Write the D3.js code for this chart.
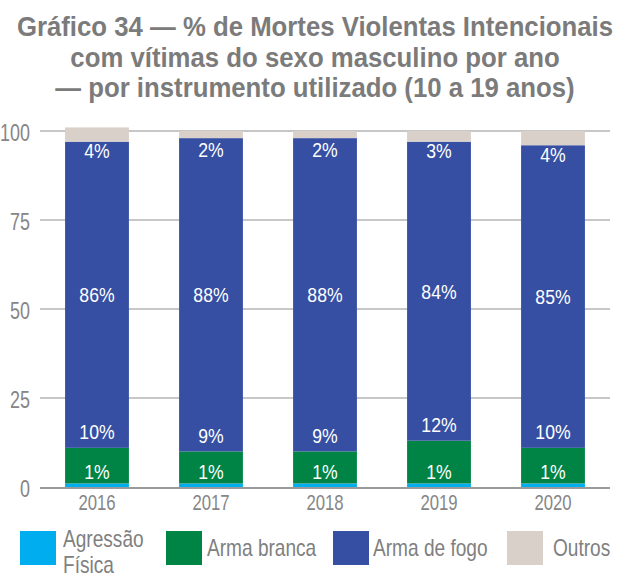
<!DOCTYPE html>
<html>
<head>
<meta charset="utf-8">
<script src="https://cdn.jsdelivr.net/npm/d3@7/dist/d3.min.js"></script>
<style>
  html, body { margin: 0; padding: 0; background: #ffffff; }
  svg { display: block; }
  text { font-family: "Liberation Sans", Arial, sans-serif; }
</style>
</head>
<body>
<svg id="chart" width="631" height="577"></svg>
<script>
// Years on the x axis
const years = ["2016", "2017", "2018", "2019", "2020"];

// Share of violent deaths (%) by instrument, one array per series
const agressaoFisica = [1, 1, 1, 1, 1];
const armaBranca     = [10, 9, 9, 12, 10];
const armaDeFogo     = [86, 88, 88, 84, 85];
const outros         = [4, 2, 2, 3, 4];

// Series names and colours
const seriesNames  = ["Agressão Física", "Arma branca", "Arma de fogo", "Outros"];
const seriesColors = ["#00aeef", "#008445", "#364fa3", "#d9d0ca"];

// Y axis ticks
const yTicks = [0, 25, 50, 75, 100];

const titleLines = [
  "Gráfico 34 — % de Mortes Violentas Intencionais",
  "com vítimas do sexo masculino por ano",
  "— por instrumento utilizado (10 a 19 anos)"
];

const rows = years.map((y, i) => ({
  year: y,
  "Agressão Física": agressaoFisica[i],
  "Arma branca": armaBranca[i],
  "Arma de fogo": armaDeFogo[i],
  "Outros": outros[i]
}));

// Narrow the glyphs horizontally around each text's own anchor point
function squeeze(sel, sx) {
  sel.each(function () {
    const t = d3.select(this);
    const x0 = +t.attr("x") || 0, y0 = +t.attr("y") || 0;
    t.attr("x", 0).attr("y", 0)
     .attr("transform", `translate(${x0},${y0}) scale(${sx},1)`);
  });
}

const svg = d3.select("#chart");

// Title
svg.append("g").selectAll("text")
  .data(titleLines)
  .join("text")
  .attr("x", 315)
  .attr("y", (d, i) => 36 + i * 30.5)
  .attr("text-anchor", "middle")
  .attr("font-size", 28)
  .attr("font-weight", "bold")
  .attr("fill", "#7b7b7b")
  .text(d => d)
  .call(squeeze, 0.92);

const x = d3.scaleBand().domain(years).range([40, 610]).paddingInner(0.44).paddingOuter(0.22);
const y = d3.scaleLinear().domain([0, 100]).range([487, 131]);

// Gridlines
svg.append("g").selectAll("line")
  .data(yTicks.filter(t => t > 0))
  .join("line")
  .attr("x1", 40).attr("x2", 610)
  .attr("y1", d => y(d)).attr("y2", d => y(d))
  .attr("stroke", "#b4b4b4").attr("stroke-width", 1.5);

// Y axis tick labels
const yAxis = svg.append("g")
  .attr("transform", "translate(30,0)")
  .call(d3.axisLeft(y).tickValues(yTicks).tickSize(0).tickPadding(0));
yAxis.select(".domain").remove();
yAxis.selectAll("text")
  .attr("font-size", 23)
  .attr("fill", "#868686")
  .attr("dy", "0.42em")
  .style("font-family", "'Liberation Sans', Arial, sans-serif")
  .call(squeeze, 0.78);

// Stacked bars
const stacked = d3.stack().keys(seriesNames)(rows);

svg.append("g").selectAll("g")
  .data(stacked)
  .join("g")
  .attr("fill", (d, i) => seriesColors[i])
  .selectAll("rect")
  .data(d => d)
  .join("rect")
  .attr("x", d => x(d.data.year))
  .attr("width", x.bandwidth())
  .attr("y", d => y(d[1]))
  .attr("height", d => y(d[0]) - y(d[1]));

// X axis: year labels and baseline
const xAxis = svg.append("g")
  .attr("transform", `translate(0,${y(0)})`)
  .call(d3.axisBottom(x).tickSize(0).tickPadding(0));
xAxis.select(".domain").remove();
svg.append("line")
  .attr("x1", 40).attr("x2", 610)
  .attr("y1", y(0) + 1).attr("y2", y(0) + 1)
  .attr("stroke", "#9a9a9a").attr("stroke-width", 2);
xAxis.selectAll("text")
  .attr("font-size", 22)
  .attr("fill", "#868686")
  .attr("dy", "1.05em")
  .style("font-family", "'Liberation Sans', Arial, sans-serif")
  .call(squeeze, 0.76);

// Value labels, placed per series
const labelPos = [
  d => d[1] + 3.5,                    // Agressão Física: just above its thin strip
  d => d[1] + 4.5,                    // Arma branca: just above the green segment
  d => (d[0] + d[1]) / 2,             // Arma de fogo: segment centre
  d => Math.min(d[0] - 2.5, 94.7)     // Outros: top of the blue segment
];

stacked.forEach((s, si) => {
  svg.append("g").selectAll("text")
    .data(s)
    .join("text")
    .attr("x", d => x(d.data.year) + x.bandwidth() / 2)
    .attr("y", d => y(labelPos[si](d)))
    .attr("dy", "0.36em")
    .attr("text-anchor", "middle")
    .attr("font-size", 21)
    .attr("fill", "#ffffff")
    .text(d => (d[1] - d[0]) + "%")
    .call(squeeze, 0.84);
});

// Legend
const legendItems = [
  { sx: 20,  tx: 63,  lines: ["Agressão", "Física"] },
  { sx: 166, tx: 207, lines: ["Arma branca"] },
  { sx: 333, tx: 373, lines: ["Arma de fogo"] },
  { sx: 507, tx: 553, lines: ["Outros"] }
];
const legend = svg.append("g");
legendItems.forEach((it, i) => {
  legend.append("rect")
    .attr("x", it.sx).attr("y", 531)
    .attr("width", 36).attr("height", 34)
    .attr("fill", seriesColors[i]);
  it.lines.forEach((ln, j) => {
    legend.append("text")
      .attr("x", it.tx)
      .attr("y", it.lines.length === 1 ? 556 : 547 + j * 26)
      .attr("font-size", 23)
      .attr("fill", "#808080")
      .text(ln)
      .call(squeeze, 0.83);
  });
});
</script>
</body>
</html>
